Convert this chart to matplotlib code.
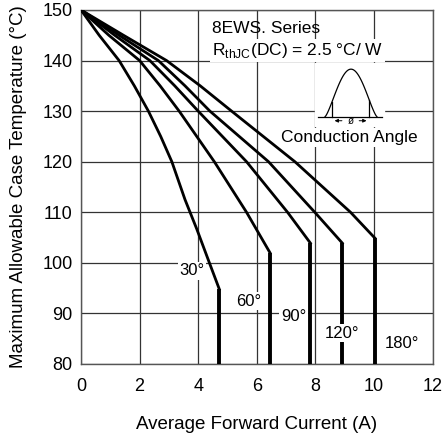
import matplotlib
matplotlib.use("Agg")
import matplotlib.pyplot as plt
import numpy as np

plt.rcParams['font.family'] = ['Liberation Sans', 'DejaVu Sans']

# curves: current (A) vs max case temperature (C)
i_30 = [0, 0.62, 1.3, 1.82, 2.3, 2.72, 3.1, 3.55, 3.95, 4.35, 4.72]
t_30 = [150, 145, 140, 135, 130, 125, 120, 112.5, 106.7, 100.5, 94.8]
i_60 = [0, 0.95, 2.0, 2.7, 3.35, 4.55, 5.65, 6.45]
t_60 = [150, 145, 140, 135, 130, 120, 110, 102.0]
i_90 = [0, 1.15, 2.35, 3.2, 4.0, 5.65, 7.05, 7.83]
t_90 = [150, 145, 140, 135, 130, 120, 110, 103.9]
i_120 = [0, 1.3, 2.64, 3.55, 4.4, 6.4, 7.98, 8.92]
t_120 = [150, 145, 140, 135, 130, 120, 110, 103.9]
i_180 = [0, 1.45, 2.92, 4.07, 5.14, 7.3, 9.2, 10.03]
t_180 = [150, 145, 140, 135, 130, 120, 110, 104.9]

curves = [(i_30, t_30), (i_60, t_60), (i_90, t_90), (i_120, t_120), (i_180, t_180)]
labels = ["30°", "60°", "90°", "120°", "180°"]
label_x = [3.78, 5.71, 7.25, 8.9, 10.95]
label_y = [98.4, 92.4, 89.3, 86.1, 84.0]

fig = plt.figure(figsize=(4.42, 4.34), dpi=100)
ax = fig.add_axes([0.1833, 0.1613, 0.7954, 0.8157])

for xs, ts in curves:
    ax.plot(xs, ts, color='black', lw=2.0, solid_joinstyle='round', zorder=3)
    ax.plot([xs[-1], xs[-1]], [ts[-1], 80], color='black', lw=2.8,
            solid_capstyle='butt', zorder=3)

for lab, lx, ly in zip(labels, label_x, label_y):
    ax.text(lx, ly, lab, ha='center', va='center', fontsize=12, zorder=5,
            bbox=dict(boxstyle='square,pad=0.1', fc='white', ec='none'))

ax.set_xlim(0, 12)
ax.set_ylim(80, 150)
ax.set_xticks(range(0, 13, 2))
ax.set_yticks(range(80, 151, 10))
ax.grid(True, color='#333333', lw=0.9, zorder=0)
ax.tick_params(length=0, labelsize=13)
ax.tick_params(axis='x', pad=10)
ax.tick_params(axis='y', pad=6)
for s in ax.spines.values():
    s.set_color('#555555')
    s.set_linewidth(1.0)

ax.set_xlabel("Average Forward Current (A)", fontsize=13.5, labelpad=15)
ax.set_ylabel("Maximum Allowable Case Temperature (°C)", fontsize=13.5, labelpad=11)

ax.text(4.46, 146.4, "8EWS. Series", fontsize=12.5, va='center', zorder=5)
ax.text(4.46, 142.0, r"R$_{\mathregular{thJC}}$(DC) = 2.5 °C/ W", fontsize=12.5,
        va='center', zorder=5,
        bbox=dict(boxstyle='square,pad=0.1', fc='white', ec='none'))

# conduction angle symbol
base_t = 128.9
x0, x1 = 8.33, 10.1
hx = np.linspace(x0, x1, 60)
ht = base_t + 9.4 * np.sin(np.pi * (hx - x0) / (x1 - x0)) ** 1.3
ax.fill_between([8.0, 10.35], 127.0, 139.5, color='white', zorder=4)
ax.plot(hx, ht, color='black', lw=0.9, zorder=5)
ax.plot([8.09, 10.26], [base_t, base_t], color='black', lw=0.9, zorder=5)
for vx in (8.56, 9.84):
    vt = base_t + 9.4 * np.sin(np.pi * (vx - x0) / (x1 - x0)) ** 1.3
    ax.plot([vx, vx], [base_t, vt], color='black', lw=0.9, zorder=5)
ax.annotate("", xy=(8.56, 128.1), xytext=(9.0, 128.1),
            arrowprops=dict(arrowstyle='-|>', lw=0.7, color='black',
                            mutation_scale=5), zorder=5)
ax.annotate("", xy=(9.84, 128.1), xytext=(9.4, 128.1),
            arrowprops=dict(arrowstyle='-|>', lw=0.7, color='black',
                            mutation_scale=5), zorder=5)
ax.text(9.2, 128.1, "ø", fontsize=7, ha='center', va='center', zorder=6)
ax.text(9.15, 124.8, "Conduction Angle", fontsize=12.5, ha='center',
        va='center', zorder=5,
        bbox=dict(boxstyle='square,pad=0.1', fc='white', ec='none'))

fig.savefig("out.png", dpi=100)
